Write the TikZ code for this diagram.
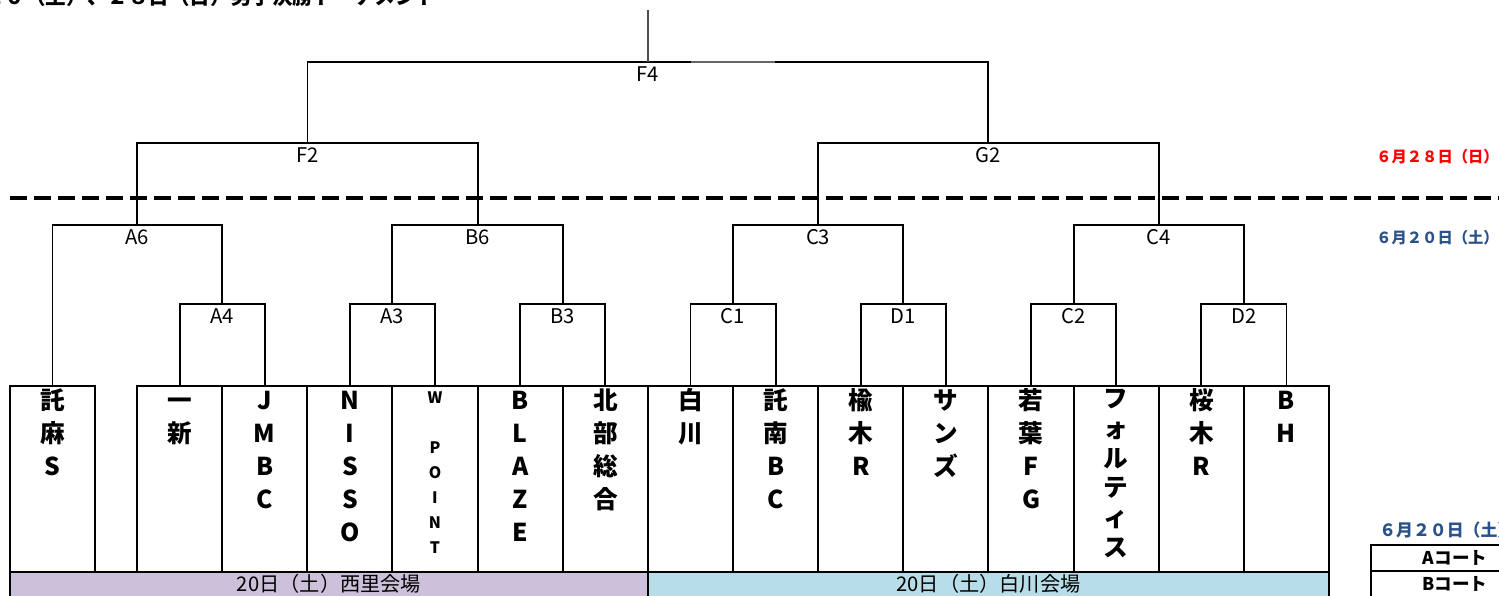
\documentclass[tikz,border=0pt]{standalone}
\usepackage{fontspec}
\setmainfont{Noto Sans CJK JP}
\usepackage{xcolor}
\definecolor{venuepurple}{HTML}{CCC0DA}
\definecolor{venueblue}{HTML}{B7DDE8}
\definecolor{daynavy}{HTML}{2A5189}

\begin{document}
\begin{tikzpicture}[x=0.2mm,y=-0.2mm]
        \tikzset{team/.style = {anchor=north,align=center,inner xsep=1pt,inner ysep=0pt,font=\bfseries\fontsize{14}{18.8}\selectfont}}
        \tikzset{match/.style = {anchor=north,inner sep=2.5pt,font=\fontsize{11.5}{13}\selectfont}}
        \tikzset{bracket/.style = {line width=1.1pt}}
        \tikzset{day/.style = {anchor=west,inner sep=0pt,font=\bfseries\fontsize{8.7}{10}\selectfont}}
        \tikzset{venue/.style = {inner sep=0pt,font=\fontsize{11.5}{13}\selectfont}}
        \tikzset{court/.style = {font=\bfseries\fontsize{10}{12}\selectfont}}
        \useasboundingbox (0,0) rectangle (1499,596);
        % title (cut off by the page)
        \node[anchor=base east,inner sep=0pt,font=\bfseries\fontsize{11.7}{14}\selectfont] (title) at (437,5) {６月２０（土）、２８日（日）男子決勝トーナメント};
        % venue bars
        \draw[bracket,fill=venuepurple] (10,572) rectangle (648,600);
        \draw[bracket,fill=venueblue] (648,572) rectangle (1329,600);
        \node[venue] (nishizato) at (329,584) {20日（土）西里会場};
        \node[venue] (shirakawahall) at (988.5,584) {20日（土）白川会場};
        % team boxes
        \draw[bracket] (10,386) rectangle (95,572);
        \draw[bracket] (137,386) rectangle (1329,572);
        \foreach \i in {1,...,13}
            \draw[bracket] ({137+85.14*\i},386) -- ++(0,186);
        % teams
        \node[team] (takuma)    at (52.5,386)   {\strut 託\\麻\\S};
        \node[team] (isshin)    at (179.6,386)  {\strut 一\\新};
        \node[team] (jmbc)      at (264.7,386)  {\strut J\\M\\B\\C};
        \node[team] (nisso)     at (349.9,386)  {\strut N\\I\\S\\S\\O};
        \node[team,font=\bfseries\fontsize{9}{14.2}\selectfont] (wpoint) at (435,386) {\strut W\\\mbox{}\\P\\O\\I\\N\\T};
        \node[team] (blaze)     at (520.2,386)  {\strut B\\L\\A\\Z\\E};
        \node[team] (hokubu)    at (605.3,386)  {\strut 北\\部\\総\\合};
        \node[team] (shirakawa) at (690.5,386)  {\strut 白\\川};
        \node[team] (takunan)   at (775.6,386)  {\strut 託\\南\\B\\C};
        \node[team] (nireki)    at (860.8,386)  {\strut 楡\\木\\R};
        \node[team] (sands)     at (945.9,386)  {\strut サ\\ン\\ズ};
        \node[team] (wakaba)    at (1031.1,386) {\strut 若\\葉\\F\\G};
        \node[team,font=\bfseries\fontsize{14}{17}\selectfont] (forte) at (1116.2,386) {\strut フ\\ォ\\ル\\テ\\ィ\\ス};
        \node[team] (sakuragi)  at (1201.4,386) {\strut 桜\\木\\R};
        \node[team] (bh)        at (1286.5,386) {\strut B\\H};
        % matches
        \node[match] (a4) at (222.2,304)  {A4};
        \node[match] (a3) at (392.4,304)  {A3};
        \node[match] (b3) at (562.7,304)  {B3};
        \node[match] (c1) at (733.0,304)  {C1};
        \node[match] (d1) at (903.3,304)  {D1};
        \node[match] (c2) at (1073.6,304) {C2};
        \node[match] (d2) at (1243.9,304) {D2};
        \node[match] (a6) at (137.3,225)  {A6};
        \node[match] (b6) at (477.6,225)  {B6};
        \node[match] (c3) at (818.1,225)  {C3};
        \node[match] (c4) at (1158.7,225) {C4};
        \node[match] (f2) at (307.5,143)  {F2};
        \node[match] (g2) at (988.4,143)  {G2};
        \node[match] (f4) at (648,62)     {F4};
        \coordinate (top) at (648,10);
        % bracket lines
        \draw[bracket] (isshin.north) |- (a4.north) -| (jmbc.north);
        \draw[bracket] (nisso.north) |- (a3.north) -| (wpoint.north);
        \draw[bracket] (blaze.north) |- (b3.north) -| (hokubu.north);
        \draw[bracket] (shirakawa.north) |- (c1.north) -| (takunan.north);
        \draw[bracket] (nireki.north) |- (d1.north) -| (sands.north);
        \draw[bracket] (wakaba.north) |- (c2.north) -| (forte.north);
        \draw[bracket] (sakuragi.north) |- (d2.north) -| (bh.north);
        \draw[bracket] (takuma.north) |- (a6.north) -| (a4.north);
        \draw[bracket] (a3.north) |- (b6.north) -| (b3.north);
        \draw[bracket] (c1.north) |- (c3.north) -| (d1.north);
        \draw[bracket] (c2.north) |- (c4.north) -| (d2.north);
        \draw[bracket] (a6.north) |- (f2.north) -| (b6.north);
        \draw[bracket] (c3.north) |- (g2.north) -| (c4.north);
        \draw[bracket] (f2.north) |- (f4.north) -| (g2.north);
        \draw[bracket,black!70] (f4.north) -- (top);
        \draw[bracket,black!60] (691,62) -- (775,62);
        % day split
        \draw[line width=0.8mm,dash pattern=on 3.4mm off 1.4mm] (10,198) -- (1499,198);
        \node[day,text=red]     (day28) at (1376,157) {６月２８日（日）};
        \node[day,text=daynavy] (day20) at (1376,238) {６月２０日（土）};
        % courts
        \node[day,text=daynavy,font=\bfseries\fontsize{9.6}{11}\selectfont] (courtday) at (1379,530) {６月２０日（土）};
        \draw[bracket] (1499,545) -| (1371,600);
        \draw[bracket] (1371,571) -- (1499,571);
        \node[court] (courtA) at (1455,558) {Aコート};
        \node[court] (courtB) at (1455,584) {Bコート};
\end{tikzpicture}
\end{document}
